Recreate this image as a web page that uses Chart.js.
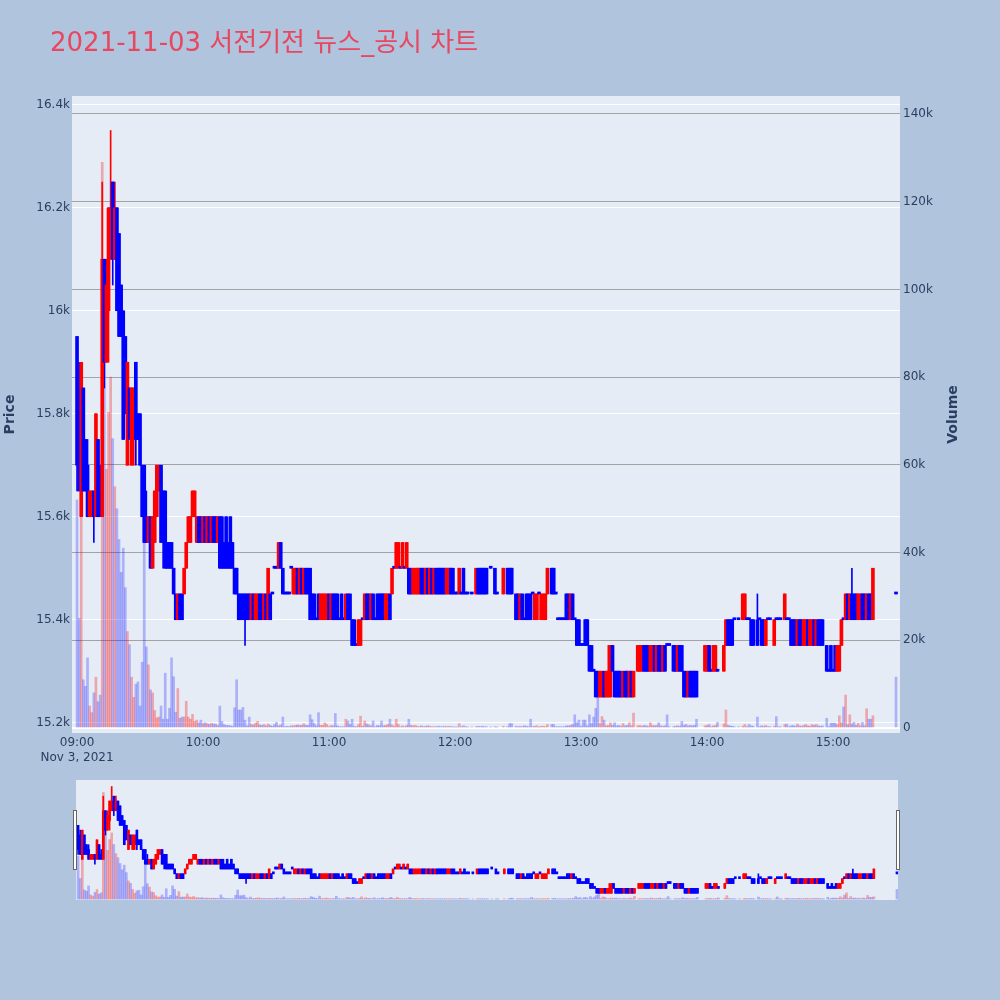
<!DOCTYPE html>
<html>
<head>
<meta charset="utf-8">
<script src="https://cdn.jsdelivr.net/npm/chart.js@4.4.0/dist/chart.umd.min.js"></script>
<style>
  body { margin: 0; background: #b0c4de; }
  #wrap { position: relative; width: 1000px; height: 1000px; background: #b0c4de; }
  #main { position: absolute; left: 0; top: 0; }
  #slider { position: absolute; left: 76px; top: 780px; }
  .handle { position: absolute; top: 810px; width: 2px; height: 58px; background: #fff; border: 1px solid #666; }
</style>
</head>
<body>
<div id="wrap">
  <canvas id="main" width="1000" height="770"></canvas>
  <canvas id="slider" width="822" height="120"></canvas>
  <div class="handle" style="left:73px"></div>
  <div class="handle" style="left:896px"></div>
</div>
<script>
const chartTitle = '2021-11-03 서전기전 뉴스_공시 차트';
const hourTicks = [0, 60, 120, 180, 240, 300, 360];
const hourLabels = ['09:00', '10:00', '11:00', '12:00', '13:00', '14:00', '15:00'];
const dateLabel = 'Nov 3, 2021';
const priceTicks = [15200, 15400, 15600, 15800, 16000, 16200, 16400];
const volumeTicks = [0, 20000, 40000, 60000, 80000, 100000, 120000, 140000];

// minutes after 09:00 that had trades
const minutes = [
  0,1,2,3,4,5,6,7,8,9, 10,11,12,13,14,15,16,17,18,19,
  20,21,22,23,24,25,26,27,28,29, 30,31,32,33,34,35,36,37,38,39,
  40,41,42,
  43,44,45,46,47,48,49,50,51,52, 53,54,55,56,57,58,59,60,61,62,
  63,64,65,66,67,68,69,70,71,72, 73,74,75,76,77,78,79,80,81,82,
  83,84,85,86,87,88,89,90,91,92, 93,94,95,96,97,98,99,100,101,102,
  103,104,105,106,
  107,108,109,110,111,112,113,114,115,116, 117,118,119,120,121,122,123,124,125,126,
  127,128,129,130,131,132,133,134,135,136, 137,138,139,140,141,142,143,144,145,146,
  147,148,149,150,151,152,153,154,155,156, 157,158,159,160,161,162,163,164,165,166,
  167,
  168,169,170,171,172,173,174,175,176,177, 178,179,180,181,182,183,184,185,186,188,
  190,191,192,193,194,195,197,199,200,203, 205,206,207,209,210,211,212,213,214,215,
  216,217,218,219,220,221,222,223,224,226, 227,228,
  229,230,231,232,233,234,235,236,237,238, 239,240,241,242,243,244,245,246,247,248,
  249,250,251,252,253,254,255,256,257,258, 259,260,261,262,263,264,265,
  267,268,269,270,271,272,273,274,275,276, 277,278,279,280,281,282,
  284,285,286,287,288,289,290,
  291,292,293,294,295, 299,300,301,302,303,304,305, 308,309,310,311,312,313, 315,
  317,318,319,320,321,322, 324,325,326,327,328,329,330, 332,333,334,335,
  337,338,339,340,341,342,343,344,345,346, 347,348,349,350,351,352,353,354,355,
  357,358,359,360,361,362,363,364,365,366, 367,368,369,370,371,372,373,374,375,376,377,378,379,
  390
];

const opens = [
  15950,15850,15600,15850,15750,15700,15600,15600,15650,15600,
  15750,15650,15600,16100,15900,16000,16100,16250,16100,16200,
  16150,16050,16000,15950,15700,15850,15700,15750,15900,15800,
  15800,15700,15700,15600,15550,15600,15500,15550,15600,15650,
  15700,15650,15650,
  15550,15550,15550,15500,15450,15400,15450,15450,15450,15500,
  15550,15550,15600,15600,15550,15600,15600,15550,15600,15550,
  15600,15550,15600,15600,15550,15600,15600,15550,15600,15550,
  15600,15550,15500,15500,15450,15450,15450,15450,15450,15450,
  15400,15450,15400,15400,15450,15450,15400,15450,15400,15450,
  15450,15500,15500,15500,15550,15500,15450,15450,15450,15500,
  15450,15450,15500,15450,
  15500,15450,15500,15500,15500,15450,15450,15400,15450,15400,
  15400,15400,15400,15450,15400,15450,15450,15450,15400,15450,
  15400,15400,15450,15450,15400,15400,15350,15350,15350,15400,
  15400,15450,15450,15400,15450,15400,15450,15450,15450,15450,
  15400,15400,15450,15450,15500,15500,15500,15500,15500,15500,
  15500,15500,15500,15450,15450,15450,15450,15500,15500,15450,
  15500,
  15450,15500,15450,15500,15500,15500,15500,15500,15450,15450,
  15500,15500,15450,15450,15450,15450,15500,15450,15450,15450,
  15450,15500,15500,15500,15500,15500,15500,15500,15450,15450,
  15500,15500,15500,15450,15450,15400,15450,15400,15450,15450,
  15450,15450,15400,15400,15450,15400,15400,15400,15450,15500,
  15500,15450,
  15400,15400,15400,15400,15450,15450,15400,15450,15400,15400,
  15400,15350,15350,15400,15400,15350,15350,15300,15300,15300,
  15250,15250,15300,15250,15250,15250,15350,15300,15300,15300,
  15300,15250,15300,15300,15250,15300,15250,
  15300,15300,15300,15350,15350,15350,15300,15300,15350,15300,
  15350,15350,15300,15350,15350,15350,
  15350,15350,15300,15350,15350,15300,15300,
  15250,15300,15300,15300,15300, 15300,15300,15350,15300,15300,15300,15300,
  15300,15350,15400,15400,15400,15400, 15400,
  15400,15400,15400,15400,15400,15400, 15400,15400,15400,15400,15350,15400,15400,
  15350,15400,15400,15400,
  15400,15400,15400,15400,15400,15400,15350,15400,15400,15350,
  15350,15400,15350,15350,15400,15350,15400,15400,15400,
  15350,15300,15350,15300,15350,15300,15300,15350,15400,15400,
  15450,15400,15450,15450,15450,15400,15400,15450,15450,15400,15450,15450,15400,
  15450
];

const closes = [
  15700,15650,15900,15650,15650,15600,15650,15650,15600,15800,
  15600,15600,16100,15900,16050,16200,16200,16100,16200,16000,
  15950,15950,15750,15800,15900,15750,15850,15850,15750,15750,
  15700,15600,15550,15550,15600,15500,15600,15650,15700,15700,
  15550,15550,15500,
  15500,15500,15500,15450,15400,15450,15400,15400,15500,15550,
  15600,15600,15650,15650,15600,15550,15550,15600,15550,15600,
  15550,15600,15550,15550,15600,15500,15500,15500,15500,15500,
  15500,15500,15450,15450,15400,15400,15400,15400,15400,15400,
  15450,15400,15450,15450,15400,15400,15450,15400,15500,15400,
  15450,15500,15500,15550,15500,15450,15450,15450,15450,15500,
  15500,15500,15450,15500,
  15450,15500,15450,15450,15400,15400,15400,15400,15400,15450,
  15450,15450,15450,15400,15450,15400,15400,15400,15400,15400,
  15400,15450,15400,15400,15350,15350,15350,15400,15400,15400,
  15450,15400,15400,15450,15400,15400,15400,15400,15400,15400,
  15450,15450,15400,15500,15500,15550,15550,15500,15550,15500,
  15550,15450,15450,15500,15500,15500,15500,15450,15450,15500,
  15450,
  15500,15450,15500,15450,15450,15450,15450,15450,15500,15500,
  15450,15450,15450,15450,15500,15450,15450,15450,15450,15450,
  15500,15450,15450,15450,15450,15450,15500,15450,15450,15500,
  15450,15450,15450,15400,15400,15450,15400,15400,15400,15400,
  15400,15450,15450,15450,15450,15450,15450,15450,15500,15450,
  15450,15450,
  15400,15400,15400,15400,15400,15400,15450,15400,15400,15350,
  15350,15350,15350,15350,15350,15300,15300,15300,15250,15250,
  15300,15300,15250,15300,15300,15350,15300,15250,15250,15250,
  15250,15300,15250,15250,15300,15250,15300,
  15350,15350,15350,15300,15300,15300,15350,15350,15300,15350,
  15300,15300,15350,15300,15350,15350,
  15300,15300,15350,15300,15300,15250,15250,
  15300,15250,15250,15250,15250, 15350,15350,15300,15300,15350,15350,15300,
  15350,15400,15350,15350,15350,15400, 15400,
  15450,15450,15400,15400,15350,15350, 15350,15400,15350,15350,15400,15400,15400,
  15400,15400,15400,15400,
  15450,15400,15400,15350,15350,15350,15400,15350,15350,15400,
  15400,15350,15400,15400,15350,15400,15350,15350,15350,
  15300,15300,15300,15300,15300,15350,15350,15400,15400,15450,
  15400,15450,15400,15400,15400,15450,15450,15400,15400,15450,15400,15400,15500,
  15450
];

const highs = [
  15950,15900,15900,15850,15750,15750,15650,15650,15650,15800,
  15750,15700,16250,16100,16100,16200,16350,16250,16250,16200,
  16150,16050,16000,15950,15900,15850,15850,15850,15900,15800,
  15800,15700,15700,15650,15600,15600,15600,15650,15700,15700,
  15700,15650,15650,
  15550,15550,15550,15500,15450,15450,15450,15450,15500,15550,
  15600,15600,15650,15650,15600,15600,15600,15600,15600,15600,
  15600,15600,15600,15600,15600,15600,15600,15550,15600,15550,
  15600,15550,15500,15500,15450,15450,15450,15450,15450,15450,
  15450,15450,15450,15450,15450,15450,15450,15450,15500,15450,
  15450,15500,15500,15550,15550,15500,15450,15450,15450,15500,
  15500,15500,15500,15500,
  15500,15500,15500,15500,15500,15450,15450,15400,15450,15450,
  15450,15450,15450,15450,15450,15450,15450,15450,15400,15450,
  15400,15450,15450,15450,15400,15400,15350,15400,15400,15400,
  15450,15450,15450,15450,15450,15400,15450,15450,15450,15450,
  15450,15450,15450,15500,15500,15550,15550,15500,15550,15500,
  15550,15500,15500,15500,15500,15500,15500,15500,15500,15500,
  15500,
  15500,15500,15500,15500,15500,15500,15500,15500,15500,15500,
  15500,15500,15450,15450,15500,15450,15500,15450,15450,15450,
  15500,15500,15500,15500,15500,15500,15500,15500,15450,15500,
  15500,15500,15500,15450,15450,15450,15450,15400,15450,15450,
  15450,15450,15450,15450,15450,15450,15450,15450,15500,15500,
  15500,15450,
  15400,15400,15400,15400,15450,15450,15450,15450,15400,15400,
  15400,15350,15350,15400,15400,15350,15350,15300,15300,15300,
  15300,15300,15300,15300,15350,15350,15350,15300,15300,15300,
  15300,15300,15300,15300,15300,15300,15300,
  15350,15350,15350,15350,15350,15350,15350,15350,15350,15350,
  15350,15350,15350,15350,15350,15350,
  15350,15350,15350,15350,15350,15300,15300,
  15300,15300,15300,15300,15300, 15350,15350,15350,15300,15350,15350,15300,
  15350,15400,15400,15400,15400,15400, 15400,
  15450,15450,15400,15400,15400,15400, 15450,15400,15400,15400,15400,15400,15400,
  15400,15400,15400,15400,
  15450,15400,15400,15400,15400,15400,15400,15400,15400,15400,
  15400,15400,15400,15400,15400,15400,15400,15400,15400,
  15350,15300,15350,15300,15350,15350,15350,15400,15400,15450,
  15450,15450,15500,15450,15450,15450,15450,15450,15450,15450,15450,15450,15500,
  15450
];

const lows = [
  15650,15650,15600,15650,15650,15600,15600,15600,15550,15600,
  15600,15600,15600,15850,15900,15900,16100,16050,16100,16000,
  15950,15950,15750,15800,15700,15750,15700,15700,15700,15750,
  15700,15600,15550,15550,15550,15500,15500,15550,15600,15650,
  15550,15500,15500,
  15500,15500,15500,15450,15400,15400,15400,15400,15450,15500,
  15550,15550,15600,15600,15550,15550,15550,15550,15550,15550,
  15550,15550,15550,15550,15550,15500,15500,15500,15500,15500,
  15500,15500,15450,15450,15400,15400,15400,15350,15400,15400,
  15400,15400,15400,15400,15400,15400,15400,15400,15400,15400,
  15450,15500,15500,15500,15500,15450,15450,15450,15450,15500,
  15450,15450,15450,15450,
  15450,15450,15450,15450,15400,15400,15400,15400,15400,15400,
  15400,15400,15400,15400,15400,15400,15400,15400,15400,15400,
  15400,15400,15400,15400,15350,15350,15350,15350,15350,15400,
  15400,15400,15400,15400,15400,15400,15400,15400,15400,15400,
  15400,15400,15400,15450,15500,15500,15500,15500,15500,15500,
  15500,15450,15450,15450,15450,15450,15450,15450,15450,15450,
  15450,
  15450,15450,15450,15450,15450,15450,15450,15450,15450,15450,
  15450,15450,15450,15450,15450,15450,15450,15450,15450,15450,
  15450,15450,15450,15450,15450,15450,15500,15450,15450,15450,
  15450,15450,15450,15400,15400,15400,15400,15400,15400,15400,
  15400,15450,15400,15400,15450,15400,15400,15400,15450,15450,
  15450,15450,
  15400,15400,15400,15400,15400,15400,15400,15400,15400,15350,
  15350,15350,15350,15350,15350,15300,15300,15300,15250,15250,
  15250,15250,15250,15250,15250,15250,15300,15250,15250,15250,
  15250,15250,15250,15250,15250,15250,15250,
  15300,15300,15300,15300,15300,15300,15300,15300,15300,15300,
  15300,15300,15300,15300,15350,15350,
  15300,15300,15300,15300,15300,15250,15250,
  15250,15250,15250,15250,15250, 15300,15300,15300,15300,15300,15300,15300,
  15300,15350,15350,15350,15350,15400, 15400,
  15400,15400,15400,15400,15350,15350, 15350,15400,15350,15350,15350,15400,15400,
  15350,15400,15400,15400,
  15400,15400,15400,15350,15350,15350,15350,15350,15350,15350,
  15350,15350,15350,15350,15350,15350,15350,15350,15350,
  15300,15300,15300,15300,15300,15300,15300,15350,15400,15400,
  15400,15400,15400,15400,15400,15400,15400,15400,15400,15400,15400,15400,15400,
  15450
];

const volumes = [
  52000,25000,48000,11000,9500,16000,5000,3500,8000,11600,
  6000,7500,129000,95000,59000,72000,80000,66000,55000,50000,
  43000,35500,41000,32000,22000,19000,11600,7000,10000,10500,
  5000,15000,46000,18500,14400,8700,8000,4000,2300,2500,
  5000,2000,12500,
  2000,4500,16000,11700,3600,9000,2200,2500,2500,6100,
  2500,2000,3100,1500,1800,1200,1800,1000,1200,1000,
  800,1100,900,900,600,5000,1500,800,600,600,
  500,400,4600,11000,4100,4100,4700,1800,500,2500,
  800,700,1100,1500,700,600,800,500,900,600,
  400,800,1300,500,700,2500,300,400,300,500,
  500,600,700,600,
  600,1000,600,600,3000,1900,1000,500,3500,600,
  600,1200,800,300,600,500,3300,500,300,300,
  300,2000,1600,800,2000,400,300,800,2700,400,
  1600,900,700,500,1600,300,600,500,1600,500,
  600,800,2000,700,400,2000,800,300,500,300,
  600,2000,600,500,600,400,300,500,300,400,
  500,
  400,300,300,300,400,300,300,400,300,400,
  300,300,200,200,1000,300,500,300,200,200,
  300,400,300,400,300,300,200,300,200,400,
  300,1000,1000,400,300,400,300,500,400,300,
  2000,300,400,500,200,400,400,300,800,800,
  800,300,
  300,300,300,300,500,500,600,800,3000,1200,
  1800,400,1800,1800,500,3000,1000,2500,4500,6800,
  1000,2600,1800,500,600,1200,600,1200,500,600,
  400,1000,500,600,1200,500,3400,
  500,600,400,600,500,400,1200,600,500,600,
  1200,500,400,500,3000,300,
  300,400,500,400,1500,600,800,
  500,600,500,600,2000, 500,600,800,300,500,600,1300,
  900,4100,600,500,400,300, 300,
  400,800,300,800,500,400, 2500,300,500,400,600,300,300,
  400,2600,300,300,
  800,900,300,500,600,400,900,500,400,600,
  800,500,400,800,600,800,500,400,500,
  2200,300,1100,1100,1100,800,2800,1200,4800,7500,
  800,3000,900,1300,600,1100,500,1300,500,4400,2000,2000,2800,
  11600
];

[opens, closes, highs, lows, volumes].forEach(a => {
  if (a.length !== minutes.length) throw new Error('length mismatch ' + a.length + ' vs ' + minutes.length);
});

const UP = '#ff0000';
const DOWN = '#0000ff';
const isUp = i => closes[i] > opens[i];

const plotBg = {
  id: 'plotBg',
  beforeDraw(chart) {
    const { ctx, chartArea: a } = chart;
    ctx.save();
    ctx.fillStyle = '#e5ecf6';
    ctx.fillRect(a.left, a.top, a.right - a.left, a.bottom - a.top);
    ctx.restore();
  }
};

const textLayer = {
  id: 'textLayer',
  afterDraw(chart) {
    const ctx = chart.ctx;
    const mid = (chart.chartArea.top + chart.chartArea.bottom) / 2;
    ctx.save();
    ctx.fillStyle = '#e8475f';
    ctx.font = '26px "DejaVu Sans", "Noto Sans CJK KR", sans-serif';
    ctx.textBaseline = 'alphabetic';
    ctx.textAlign = 'left';
    ctx.fillText(chartTitle, 50, 51);

    ctx.fillStyle = '#2a3f5f';
    ctx.font = 'bold 14px "DejaVu Sans", sans-serif';
    ctx.textAlign = 'center';
    ctx.textBaseline = 'middle';
    [['Price', 10], ['Volume', 953]].forEach(([t, x]) => {
      ctx.save();
      ctx.translate(x, mid);
      ctx.rotate(-Math.PI / 2);
      ctx.fillText(t, 0, 0);
      ctx.restore();
    });
    ctx.restore();
  }
};

function buildSets(bodyW, wickW) {
  const colors = minutes.map((m, i) => isUp(i) ? UP : DOWN);
  return [
    {
      type: 'bar', yAxisID: 'y2', order: 3, grouped: false,
      data: minutes.map((m, i) => ({ x: m, y: volumes[i] })),
      backgroundColor: minutes.map((m, i) => isUp(i) ? 'rgba(255,0,0,0.3)' : 'rgba(0,0,255,0.25)'),
      barThickness: 2
    },
    {
      type: 'bar', yAxisID: 'y', order: 2, grouped: false,
      data: minutes.map((m, i) => ({ x: m, y: [lows[i], highs[i]] })),
      backgroundColor: colors,
      barThickness: wickW
    },
    {
      type: 'bar', yAxisID: 'y', order: 1, grouped: false,
      data: minutes.map((m, i) => ({ x: m, y: [opens[i], closes[i]] })),
      backgroundColor: colors,
      barThickness: bodyW,
      minBarLength: 2
    }
  ];
}

const tickFont = { family: '"DejaVu Sans", sans-serif', size: 12 };

new Chart(document.getElementById('main'), {
  data: { datasets: buildSets(3, 1) },
  options: {
    responsive: false,
    animation: false,
    devicePixelRatio: 1,
    layout: { padding: { top: 96, left: 0, right: 0, bottom: 0 } },
    plugins: { legend: { display: false }, tooltip: { enabled: false } },
    scales: {
      x: {
        type: 'linear', min: -2.4, max: 391.9, offset: false,
        grid: { display: false, drawTicks: false }, border: { display: false },
        afterBuildTicks: s => { s.ticks = hourTicks.map(v => ({ value: v })); },
        afterFit: s => { s.height = 37; },
        ticks: {
          autoSkip: false, maxRotation: 0, padding: 3, color: '#2a3f5f', font: tickFont,
          callback: (v, i) => i === 0 ? [hourLabels[0], dateLabel] : hourLabels[i]
        }
      },
      y: {
        position: 'left', min: 15180, max: 16417,
        grid: { color: '#ffffff', lineWidth: 1, drawTicks: false },
        border: { display: false },
        afterBuildTicks: s => { s.ticks = priceTicks.map(v => ({ value: v })); },
        afterFit: s => { s.width = 72; },
        ticks: { padding: 2, color: '#2a3f5f', font: tickFont, callback: v => (v / 1000) + 'k' }
      },
      y2: {
        position: 'right', min: -1140, max: 144100,
        grid: {
          drawTicks: false,
          color: c => c.tick && c.tick.value === 0 ? '#ffffff' : '#a3a3a3',
          lineWidth: c => c.tick && c.tick.value === 0 ? 2 : 1
        },
        border: { display: false },
        afterBuildTicks: s => { s.ticks = volumeTicks.map(v => ({ value: v })); },
        afterFit: s => { s.width = 100; },
        ticks: { padding: 3, color: '#2a3f5f', font: tickFont, callback: v => v === 0 ? '0' : (v / 1000) + 'k' }
      }
    }
  },
  plugins: [plotBg, textLayer]
});

// range slider below the main plot
new Chart(document.getElementById('slider'), {
  data: { datasets: buildSets(2, 1) },
  options: {
    responsive: false,
    animation: false,
    devicePixelRatio: 1,
    layout: { padding: 0 },
    plugins: { legend: { display: false }, tooltip: { enabled: false } },
    scales: {
      x: { type: 'linear', min: -1, max: 390.5, offset: false, display: false },
      y: { min: 15180, max: 16417, display: false },
      y2: { min: -1140, max: 144100, display: false }
    }
  },
  plugins: [plotBg]
});
</script>
</body>
</html>
